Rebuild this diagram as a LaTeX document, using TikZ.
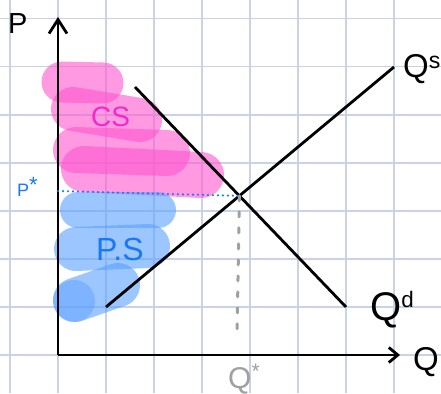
\documentclass[tikz,border=0pt]{standalone}
\usepackage{fontspec}
\setmainfont{Liberation Sans}
\usetikzlibrary{arrows.meta}
\definecolor{gridc}{RGB}{200,212,230}
\definecolor{hlpink}{RGB}{255,85,208}
\definecolor{hlblue}{RGB}{90,160,255}
\definecolor{cstext}{RGB}{245,40,200}
\definecolor{pstext}{RGB}{25,120,245}
\definecolor{qgray}{RGB}{160,160,160}
\newcommand{\fs}[1]{\fontsize{#1}{#1}\selectfont}
\begin{document}
\begin{tikzpicture}[x=1pt,y=-1pt,
  gridline/.style={gridc, line width=1.6pt},
  pinkhl/.style={draw=hlpink, draw opacity=0.6, line width=#1, line cap=round},
  pinkhl/.default=42pt,
  bluehl/.style={draw=hlblue, draw opacity=0.6, line width=#1, line cap=round},
  bluehl/.default=40pt,
  axisline/.style={black, line width=2.8pt},
  curve/.style={black, line width=2.8pt},
  lbl/.style={inner sep=0pt, anchor=base west}]
\fill[white] (0,0) rectangle (441,393);
\useasboundingbox (0,0) rectangle (441,393);
% grid
\foreach \x in {10,58,106,154,202,250,298,346,394}
  \draw[gridline] (\x,0) -- (\x,393);
\foreach \y in {18.5,66.6,114.7,162.8,210.9,259,307.1,355.2}
  \draw[gridline] (0,\y) -- (441,\y);
% consumer surplus highlighter strokes
\draw[pinkhl=41pt] (62,82) -- (103,83);
\draw[pinkhl=44pt] (73,109) -- (140,120);
\draw[pinkhl=46pt] (76,150) -- (167,153);
\draw[pinkhl=46pt] (84,169) -- (201,175);
% producer surplus highlighter strokes
\draw[bluehl=36pt] (78,210) -- (158,210);
\draw[bluehl=44pt] (76,249) -- (148,246);
\draw[bluehl=44pt] (75,300) -- (118,285);
\fill[hlblue, fill opacity=0.45] (74,301) circle (21pt);
% axes
\coordinate (O) at (58,355);
\coordinate (ytop) at (58,17);
\coordinate (xend) at (400,355);
\draw[axisline, -{Straight Barb[length=14pt,width=18pt]}] (O) -- (ytop);
\draw[axisline, -{Straight Barb[length=9pt,width=15pt]}] (O) -- (xend);
% demand and supply
\coordinate (d1) at (135,87);
\coordinate (d2) at (346,307);
\coordinate (s1) at (106,307);
\coordinate (s2) at (394,67);
\draw[curve] (d1) -- (d2);
\draw[curve] (s1) -- (s2);
\coordinate (E) at (intersection of d1--d2 and s1--s2);
\coordinate (pstart) at (58,191);
\coordinate (qend) at (237,337);
\draw[pstext, line width=2.4pt, line cap=round, dash pattern=on 0pt off 5pt] (pstart) -- (E);
\draw[qgray, line width=3pt, line cap=round, dash pattern=on 5pt off 11pt] (E) -- (qend);
% labels
\node[lbl, font=\fs{29}] (plab) at (8,34) {P};
\node[lbl, font=\fs{18}, text=pstext] (pstar) at (17,196) {P\raisebox{4pt}{\fs{22}*}};
\node[lbl, font=\fs{28}, text=cstext] (cs) at (91,126) {CS};
\node[lbl, font=\fs{32}, text=pstext] (ps) at (96,260) {P.S};
\node[lbl, font=\fs{33}] (qs) at (403,78) {Q\textsuperscript{s}};
\node[lbl, font=\fs{40}] (qd) at (370,320) {Q\raisebox{3pt}{\fs{32}\textsuperscript{d}}};
\node[lbl, font=\fs{33}] (qax) at (413,370) {Q};
\node[lbl, font=\fs{30}, text=qgray] (qstar) at (228,388) {Q\textsuperscript{*}};
\end{tikzpicture}
\end{document}
